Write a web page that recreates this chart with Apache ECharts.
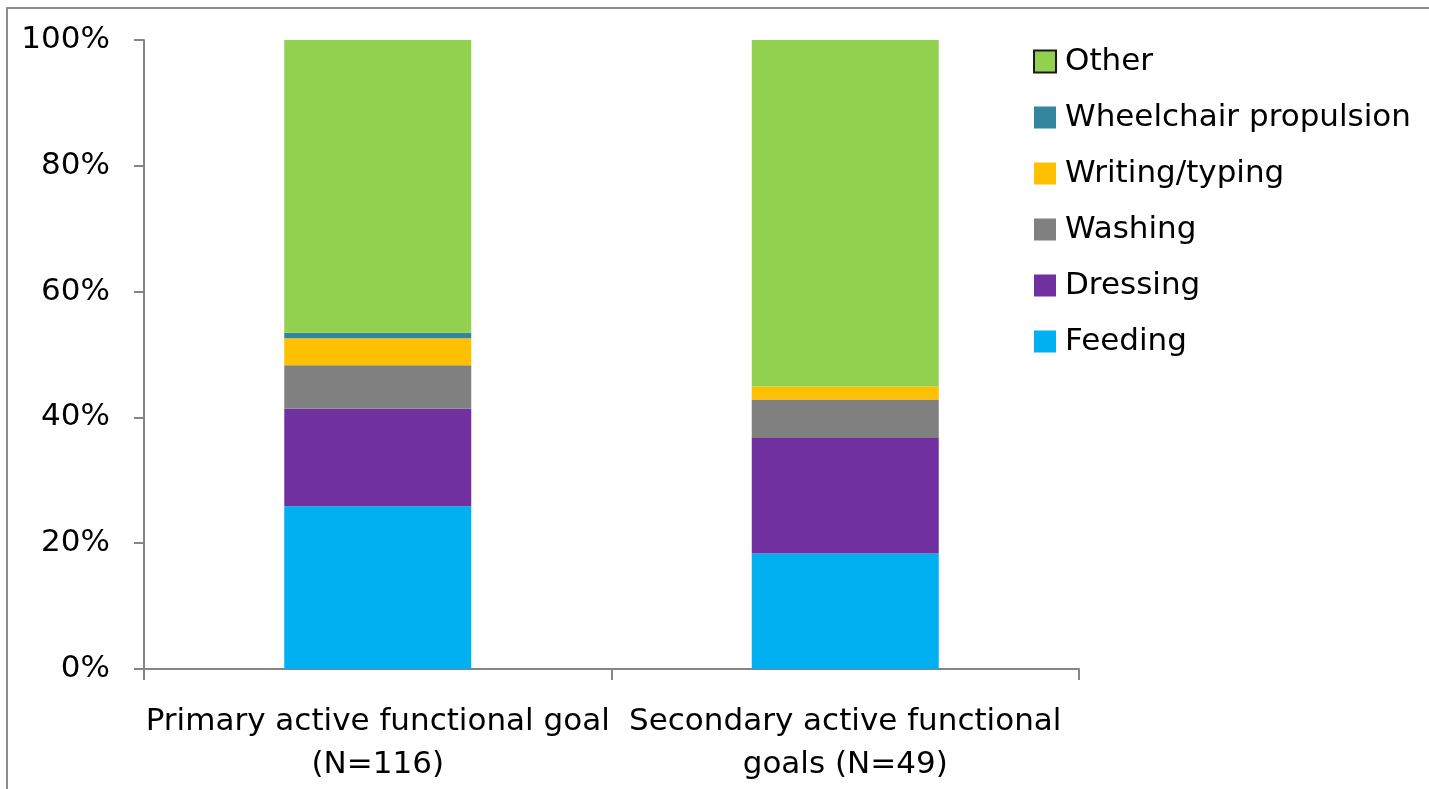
<!DOCTYPE html>
<html>
<head>
<meta charset="utf-8">
<script src="https://cdn.jsdelivr.net/npm/echarts@6/dist/echarts.min.js"></script>
<style>
  html, body { margin: 0; padding: 0; background: #fff; }
  #chart { width: 1429px; height: 789px; }
</style>
</head>
<body>
<div id="chart"></div>
<script>
// Goal categories and group sizes
const groups = ['Primary active functional goal\n(N=116)', 'Secondary active functional\ngoals (N=49)'];
const groupN = [116, 49];

// Counts per goal type in each group
const feeding    = [30, 9];
const dressing   = [18, 9];
const washing    = [8, 3];
const writing    = [5, 1];
const wheelchair = [1, 0];
const other      = [54, 27];

const yTicks = [0, 20, 40, 60, 80, 100];

const seriesDefs = [
  { name: 'Feeding', counts: feeding, color: '#00B0F0' },
  { name: 'Dressing', counts: dressing, color: '#7030A0' },
  { name: 'Washing', counts: washing, color: '#808080' },
  { name: 'Writing/typing', counts: writing, color: '#FFC000' },
  { name: 'Wheelchair propulsion', counts: wheelchair, color: '#31859C' },
  { name: 'Other', counts: other, color: '#92D050' }
];

const FONT = 'DejaVu Sans';
const FS = 31;
const chart = echarts.init(document.getElementById('chart'), null, { renderer: 'canvas' });

const series = seriesDefs.map(s => ({
  name: s.name,
  type: 'bar',
  stack: 'total',
  barWidth: '40%',
  itemStyle: { color: s.color },
  data: s.counts.map((c, i) => c / groupN[i] * 100)
}));

// Legend lists top-down in reverse stacking order
const legendData = seriesDefs.slice().reverse().map(s => ({
  name: s.name,
  itemStyle: s.name === 'Other' ? { borderColor: '#1a1a1a', borderWidth: 2 } : {}
}));

chart.setOption({
  animation: false,
  backgroundColor: '#fff',
  graphic: [{
    type: 'rect',
    shape: { x: 7, y: 8, width: 1440, height: 800 },
    style: { fill: 'none', stroke: '#8c8c8c', lineWidth: 2 },
    silent: true
  }],
  grid: { left: 144, right: 350, top: 40, bottom: 120, containLabel: false },
  legend: {
    orient: 'vertical',
    left: 1033,
    top: 46,
    padding: 0,
    itemWidth: 22,
    itemHeight: 22,
    itemGap: 25,
    icon: 'rect',
    selectedMode: false,
    textStyle: { fontFamily: FONT, fontSize: FS, color: '#000', padding: [0, 0, 0, 4] },
    data: legendData
  },
  xAxis: {
    type: 'category',
    data: groups,
    axisLine: { lineStyle: { color: '#868686', width: 2 } },
    axisTick: { show: true, length: 11, alignWithLabel: false, lineStyle: { color: '#868686', width: 2 } },
    axisLabel: { fontFamily: FONT, fontSize: FS, color: '#000', margin: 31, lineHeight: 43, interval: 0 }
  },
  yAxis: {
    type: 'value',
    min: yTicks[0],
    max: yTicks[yTicks.length - 1],
    interval: 20,
    splitLine: { show: false },
    axisLine: { show: true, lineStyle: { color: '#868686', width: 2 } },
    axisTick: { show: true, length: 10, lineStyle: { color: '#868686', width: 2 } },
    axisLabel: { fontFamily: FONT, fontSize: FS, color: '#000', margin: 34, formatter: v => v + '%' }
  },
  series: series
});
</script>
</body>
</html>
